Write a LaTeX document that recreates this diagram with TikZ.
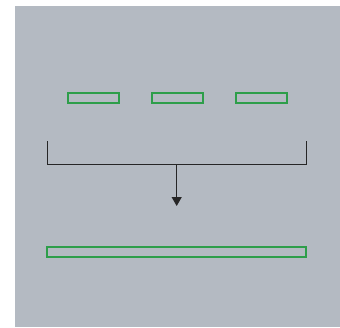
\documentclass[tikz,border=0pt]{standalone}
\usetikzlibrary{arrows.meta}
\definecolor{bg}{HTML}{B4BAC2}
\definecolor{gr}{HTML}{2E9E4A}
\begin{document}
\begin{tikzpicture}[x=1pt,y=-1pt,
  bar/.style={draw=gr,line width=2pt,fill=bg,inner sep=0pt,minimum height=10pt},
  link/.style={draw=black!85,line width=1pt}]
\useasboundingbox (0,0) rectangle (340,327);
\fill[bg] (15,6) rectangle (340,327);
\node[bar,minimum width=51pt] (b1) at (93,97.8) {};
\node[bar,minimum width=51pt] (b2) at (177,97.8) {};
\node[bar,minimum width=51pt] (b3) at (261,97.8) {};
\node[bar,minimum width=259pt] (b4) at (176.8,251.5) {};
\coordinate (l1) at (47.7,141.3);
\coordinate (l2) at (47.7,164.3);
\coordinate (r1) at (306.3,141.3);
\coordinate (r2) at (306.3,164.3);
\coordinate (m1) at (176.7,164.3);
\coordinate (m2) at (176.7,206);
\draw[link] (l1) -- (l2) -- (r2) -- (r1);
\draw[link,-{Triangle[width=10pt,length=9pt]}] (m1) -- (m2);
\end{tikzpicture}
\end{document}
